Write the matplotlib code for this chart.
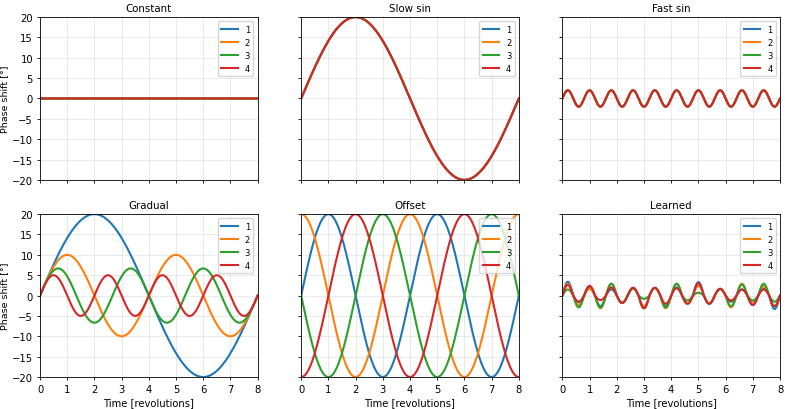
import numpy as np
import matplotlib
matplotlib.use("Agg")
import matplotlib.pyplot as plt

plt.rcParams.update({
    'font.size': 7.2,
    'xtick.major.size': 2.5,
    'ytick.major.size': 2.5,
    'xtick.major.pad': 2.5,
    'ytick.major.pad': 2.5,
    'xtick.major.width': 0.6,
    'ytick.major.width': 0.6,
    'axes.linewidth': 0.6,
    'axes.labelpad': 2.0,
})

titles = ['Constant', 'Slow sin', 'Fast sin', 'Gradual', 'Offset', 'Learned']
labels = ['1', '2', '3', '4']
colors = ['#1f77b4', '#ff7f0e', '#2ca02c', '#d62728']

# sine parameters: amplitude [deg], period [rev], phase [deg]
slow_amp, slow_period = 20, 8
fast_amp, fast_period = 2, 0.8
gradual_amp = [20, 10, 20 / 3, 5]
gradual_period = [8, 4, 8 / 3, 2]
offset_amp, offset_period = 20, 4
offset_phase = [0, 90, 180, 270]

# learned: extreme value of each half cycle (period 0.8 rev), one row per series
learned_extremes = [
    [3.4, -1.6, 2.2, -2.6, 1.5, -1.8, 1.9, -3.1, 1.9, -2.6,
     2.0, -2.0, 3.3, -2.0, 1.6, -1.5, 1.5, -2.3, 1.7, -3.3],
    [2.9, -2.3, 1.6, -3.1, 2.9, -1.8, 1.9, -2.6, 1.9, -3.1,
     2.9, -2.0, 2.4, -2.0, 1.6, -2.9, 2.9, -1.6, 2.3, -2.6],
    [1.5, -2.9, 2.2, -2.9, 2.9, -1.8, 1.7, -0.8, 1.9, -2.9,
     2.9, -1.2, 0.7, -2.0, 1.6, -2.6, 2.7, -1.2, 2.9, -1.5],
    [2.6, -1.5, 2.4, -1.1, 2.0, -1.8, 1.9, -3.1, 1.9, -2.0,
     1.8, -2.0, 3.0, -2.0, 1.7, -1.2, 1.5, -2.3, 1.5, -2.6],
]

t = np.linspace(0, 8, 2001)

fig, axes = plt.subplots(2, 3, figsize=(7.89, 4.10), dpi=100, sharex=True, sharey=True)
fig.subplots_adjust(left=0.0507, right=0.9886, bottom=0.078, top=0.956, wspace=0.2, hspace=0.21)
axs = axes.ravel()

for i in range(4):
    axs[0].plot(t, np.zeros_like(t), color=colors[i], lw=1.5, label=labels[i])
    axs[1].plot(t, slow_amp * np.sin(2 * np.pi * t / slow_period), color=colors[i], lw=1.5, label=labels[i])
    axs[2].plot(t, fast_amp * np.sin(2 * np.pi * t / fast_period), color=colors[i], lw=1.5, label=labels[i])
    axs[3].plot(t, gradual_amp[i] * np.sin(2 * np.pi * t / gradual_period[i]),
                color=colors[i], lw=1.5, label=labels[i])
    axs[4].plot(t, offset_amp * np.sin(2 * np.pi * t / offset_period + np.deg2rad(offset_phase[i])),
                color=colors[i], lw=1.5, label=labels[i])
    half = np.minimum((t / (fast_period / 2)).astype(int), len(learned_extremes[i]) - 1)
    ext = np.array(learned_extremes[i])[half]
    axs[5].plot(t, ext * np.abs(np.sin(2 * np.pi * t / fast_period)), color=colors[i], lw=1.5, label=labels[i])

for ax, title in zip(axs, titles):
    ax.set_title(title, fontsize=7.4, pad=4.3)
    ax.grid(True, color='#b0b0b0', alpha=0.3, lw=0.6)
    ax.legend(loc='upper right', fontsize=6)
    ax.set_xlim(0, 8)
    ax.set_ylim(-20, 20)
    ax.set_xticks(range(0, 9))
    ax.set_yticks(range(-20, 21, 5))

for ax in axes[1]:
    ax.set_xlabel('Time [revolutions]')
for ax in axes[:, 0]:
    ax.set_ylabel('Phase shift [°]', fontsize=6.8)

fig.savefig('out.png', dpi=100)
